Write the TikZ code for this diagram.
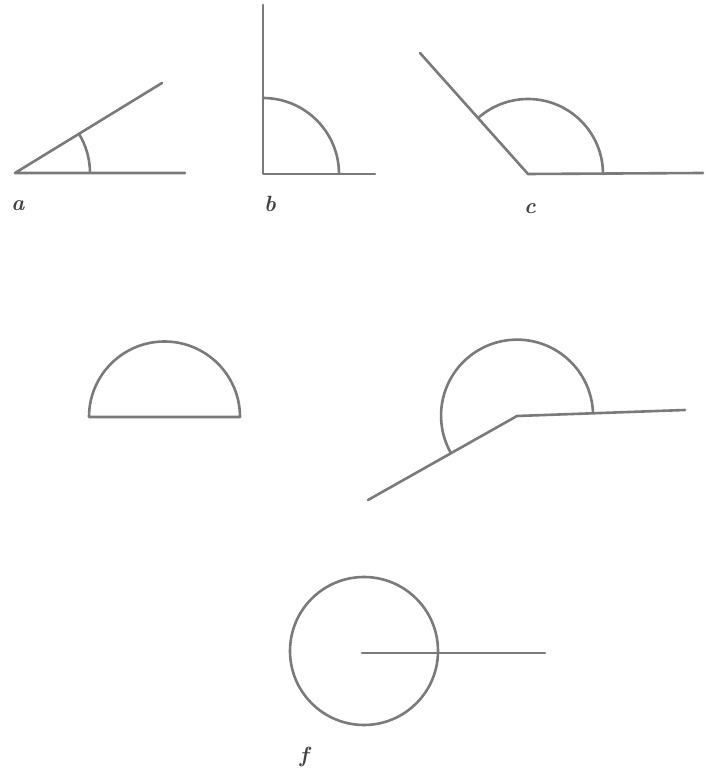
\documentclass[tikz,border=0pt]{standalone}
\usepackage{fontspec}
\begin{document}
\begin{tikzpicture}[x=1pt,y=1pt,
  ln/.style={draw=black!52, line width=2.6pt, line cap=round, line join=round},
  lbl/.style={font=\fontsize{22}{24}\selectfont\bfseries\itshape, text=black!75, inner sep=0pt}]
\useasboundingbox (0,0) rectangle (705,774);
% figure a
\coordinate (aV) at (15,601);
\coordinate (aH) at (185,601);
\coordinate (aU) at (162,691);
\coordinate (aS) at (90,601);
\draw[ln] (aH) -- (aV) -- (aU);
\draw[ln] (aS) arc[start angle=0,end angle=31.5,radius=75];
\node[lbl] (la) at (18,568) {a};
% figure b
\coordinate (bV) at (263,600);
\coordinate (bT) at (263,769);
\coordinate (bH) at (375,600);
\coordinate (bS) at (339,600);
\draw[ln] (bT) -- (bV) -- (bH);
\draw[ln] (bS) arc[start angle=0,end angle=90,radius=76];
\node[lbl] (lb) at (270,570) {b};
% figure c
\coordinate (cV) at (528,600);
\coordinate (cH) at (703,601);
\coordinate (cU) at (420,721);
\coordinate (cS) at (603,600);
\draw[ln] (cH) -- (cV) -- (cU);
\draw[ln] (cS) arc[start angle=0,end angle=131.8,radius=75];
\node[lbl] (lc) at (530,565) {c};
% figure d
\coordinate (dL) at (89,357);
\coordinate (dR) at (240,357);
\draw[ln] (dL) -- (dR) arc[start angle=0,end angle=180,radius=75.5];
% figure e
\coordinate (eV) at (517,358);
\coordinate (eH) at (685,364);
\coordinate (eL) at (368,274);
\coordinate (eS) at (593,361);
\draw[ln] (eH) -- (eV) -- (eL);
\draw[ln] (eS) arc[start angle=2,end angle=209.4,radius=76];
% figure f
\coordinate (fC) at (364,123);
\coordinate (fO) at (362,121);
\coordinate (fE) at (545,121);
\draw[ln] (fC) circle[radius=74];
\draw[ln] (fO) -- (fE);
\node[lbl] (lf) at (304,17) {f};
\end{tikzpicture}
\end{document}
